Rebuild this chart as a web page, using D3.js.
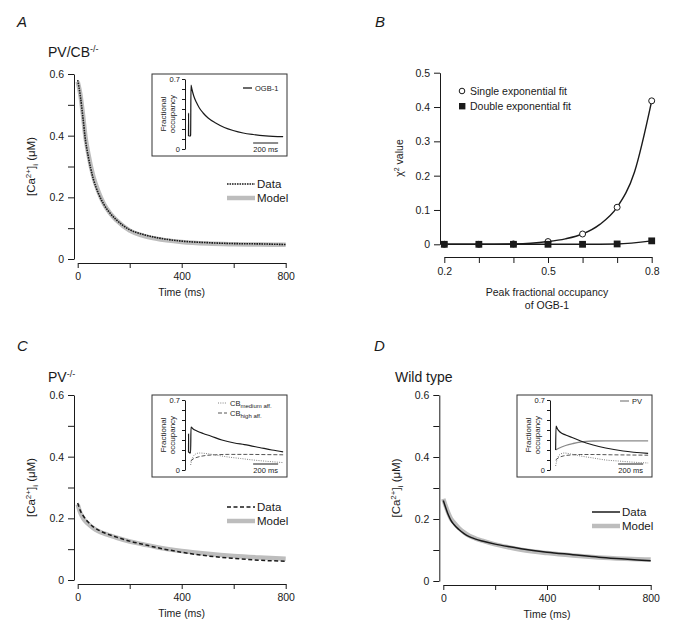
<!DOCTYPE html>
<html><head><meta charset="utf-8">
<script src="https://cdn.jsdelivr.net/npm/d3@7"></script>
<style>
body{margin:0;background:#fff}
svg{display:block}
text{font-family:"Liberation Sans",Arial,Helvetica,sans-serif;fill:#1a1a1a}
</style>
</head><body>
<svg id="chart" width="693" height="632"></svg>
<script>
// ---------------- DATA ----------------
const mainTime = [0,10,20,30,40,60,80,100,125,150,200,250,300,400,500,600,700,800];
const dataA  = [0.58,0.53,0.46,0.385,0.335,0.26,0.212,0.178,0.148,0.126,0.095,0.08,0.07,0.058,0.053,0.05,0.049,0.047];
const modelA = [0.575,0.535,0.47,0.395,0.345,0.268,0.218,0.18,0.148,0.125,0.092,0.076,0.066,0.055,0.05,0.048,0.047,0.046];
const dataC  = [0.25,0.225,0.21,0.198,0.188,0.172,0.162,0.154,0.146,0.139,0.126,0.116,0.106,0.09,0.078,0.07,0.064,0.061];
const modelC = [0.245,0.218,0.202,0.19,0.182,0.168,0.158,0.151,0.144,0.137,0.125,0.116,0.107,0.094,0.085,0.078,0.073,0.069];
const dataD  = [0.26,0.235,0.212,0.195,0.183,0.166,0.153,0.143,0.135,0.129,0.119,0.111,0.104,0.093,0.085,0.077,0.071,0.065];
const modelD = [0.265,0.24,0.218,0.2,0.19,0.171,0.157,0.146,0.137,0.13,0.118,0.109,0.101,0.09,0.082,0.076,0.072,0.069];

const mainYTicks = [0,0.1,0.2,0.3,0.4,0.5,0.6];
const mainYLabels = [0,0.2,0.4,0.6];
const mainXTicks = [0,200,400,600,800];
const mainXLabels = [0,400,800];

// insets (time in ms relative to stimulus, fractional occupancy)
const ogbA_t = [-17,-16.5,-16,-1,0,3,10,25,45,70,100,140,200,270,340,420,500,600,740];
const ogbA_v = [0.13,0.36,0.13,0.13,0.14,0.64,0.6,0.53,0.47,0.41,0.36,0.31,0.26,0.215,0.185,0.16,0.145,0.132,0.123];
const ogbC_t = [-17,-16.5,-16,-1,0,3,20,50,100,160,250,350,430,550,650,740];
const ogbC_v = [0.18,0.36,0.18,0.17,0.17,0.43,0.41,0.39,0.365,0.34,0.3,0.27,0.254,0.225,0.2,0.182];
const cbMedC_t = [0,15,40,70,120,200,300,400,500,600,740];
const cbMedC_v = [0.05,0.12,0.16,0.17,0.165,0.15,0.13,0.115,0.1,0.088,0.074];
const cbHighC_t = [0,20,60,120,200,300,450,600,740];
const cbHighC_v = [0.09,0.11,0.13,0.145,0.152,0.156,0.156,0.154,0.152];
const ogbD_t = [0,3,15,35,80,142,200,300,400,540,740];
const ogbD_v = [0.2,0.44,0.41,0.38,0.35,0.32,0.29,0.25,0.22,0.19,0.167];
const pvD_t = [0,30,80,140,200,300,400,740];
const pvD_v = [0.2,0.22,0.245,0.265,0.28,0.29,0.292,0.292];
const cbHighD_t = [0,20,60,120,200,300,450,600,740];
const cbHighD_v = [0.1,0.12,0.14,0.15,0.155,0.155,0.152,0.15,0.148];
const cbMedD_t = [0,15,40,70,120,200,300,400,500,600,740];
const cbMedD_v = [0.04,0.12,0.16,0.17,0.16,0.14,0.12,0.1,0.09,0.08,0.07];
const insetYTicks = [0,0.1,0.2,0.3,0.4,0.5,0.6,0.7];

// panel B
const occupancy = [0.2,0.3,0.4,0.5,0.6,0.7,0.8];
const singleChi = [0,0,0.001,0.008,0.03,0.108,0.418];
const doubleChi = [0,0,0,0,0,0.001,0.01];
const singleFitX = [0.2,0.3,0.4,0.45,0.5,0.55,0.6,0.65,0.7,0.75,0.8];
const singleFitY = [0,0,0.001,0.003,0.008,0.016,0.03,0.058,0.108,0.21,0.418];
const bXTicks = [0.2,0.3,0.4,0.5,0.6,0.7,0.8];
const bXLabels = [0.2,0.5,0.8];
const bYTicks = [0,0.1,0.2,0.3,0.4,0.5];

// ---------------- DRAW ----------------
const svg = d3.select('#chart');
const INK = '#1a1a1a', GREY = '#bdbdbd';
const fmt = d => d === 0 ? '0' : String(d);

function styleAxis(g, fs){
  g.selectAll('.domain').attr('stroke', INK).attr('stroke-width', 1);
  g.selectAll('.tick line').attr('stroke', INK).attr('stroke-width', 1);
  g.selectAll('.tick text').attr('font-size', fs).attr('fill', INK)
    .style('font-family','"Liberation Sans",Arial,sans-serif');
}

function caLabel(parent, x, y){
  const t = parent.append('text').attr('transform', `translate(${x},${y}) rotate(-90)`)
    .attr('text-anchor','middle').attr('font-size', 11.5);
  t.append('tspan').text('[Ca');
  t.append('tspan').attr('font-size', 8).attr('dy', -4.5).text('2+');
  t.append('tspan').attr('dy', 4.5).text(']');
  t.append('tspan').attr('font-size', 8).attr('dy', 2.5).text('i');
  t.append('tspan').attr('dy', -2.5).text(' (\u03bcM)');
}

function drawMain(cfg){
  const x = d3.scaleLinear().domain([0,800]).range(cfg.xr);
  const y = d3.scaleLinear().domain([0,0.6]).range(cfg.yr);
  const gy = svg.append('g').attr('transform', `translate(${cfg.yAxisX},0)`)
    .call(d3.axisLeft(y).tickValues(mainYTicks).tickSize(6).tickSizeOuter(0).tickPadding(4)
      .tickFormat(d => mainYLabels.includes(d) ? fmt(d) : ''));
  styleAxis(gy, 10.5);
  const gx = svg.append('g').attr('transform', `translate(0,${cfg.xAxisY})`)
    .call(d3.axisBottom(x).tickValues(mainXTicks).tickSize(5).tickSizeOuter(0).tickPadding(5)
      .tickFormat(d => mainXLabels.includes(d) ? fmt(d) : ''));
  styleAxis(gx, 10.5);
  svg.append('text').attr('x', (cfg.xr[0]+cfg.xr[1])/2).attr('y', cfg.xAxisY + 33)
    .attr('text-anchor','middle').attr('font-size', 10.5).text('Time (ms)');
  caLabel(svg, cfg.yAxisX - 39, (cfg.yr[0]+cfg.yr[1])/2);

  const line = d3.line().x((d,i) => x(mainTime[i])).y(d => y(d)).curve(d3.curveMonotoneX);
  svg.append('path').attr('d', line(cfg.model)).attr('fill','none')
    .attr('stroke', GREY).attr('stroke-width', 4.5);
  svg.append('path').attr('d', line(cfg.data)).attr('fill','none')
    .attr('stroke', INK).attr('stroke-width', cfg.dataW).attr('stroke-dasharray', cfg.dash);

  // legend
  const lx = cfg.legX, ly = cfg.legY;
  svg.append('line').attr('x1', lx).attr('x2', lx+28).attr('y1', ly).attr('y2', ly)
    .attr('stroke', INK).attr('stroke-width', cfg.dataW).attr('stroke-dasharray', cfg.dash);
  svg.append('text').attr('x', lx+30).attr('y', ly+4).attr('font-size', 11.5).text('Data');
  svg.append('line').attr('x1', lx).attr('x2', lx+28).attr('y1', ly+14).attr('y2', ly+14)
    .attr('stroke', GREY).attr('stroke-width', 4.5);
  svg.append('text').attr('x', lx+30).attr('y', ly+18).attr('font-size', 11.5).text('Model');

  // title
  const tt = svg.append('text').attr('x', cfg.titleX).attr('y', cfg.titleY).attr('font-size', 14);
  tt.append('tspan').text(cfg.title);
  if (cfg.sup) tt.append('tspan').attr('font-size', 9).attr('dy', -5.5).text(cfg.sup);
  svg.append('text').attr('x', cfg.letterX).attr('y', cfg.letterY).attr('font-size', 15)
    .attr('font-style','italic').text(cfg.letter);
}

function drawInset(cfg){
  const ax = cfg.axisX;
  const yi = d3.scaleLinear().domain([0,0.7]).range([cfg.y0, cfg.y0 - 70]);
  const xi = d3.scaleLinear().domain([-45,755]).range([ax, ax+100]);
  svg.append('rect').attr('x', ax-33).attr('y', yi(0.7)-5).attr('width', 135).attr('height', 82)
    .attr('fill','#fff').attr('stroke','#333').attr('stroke-width', 1);
  const g = svg.append('g').attr('transform', `translate(${ax},0)`)
    .call(d3.axisLeft(yi).tickValues(insetYTicks).tickSize(3).tickSizeOuter(0).tickPadding(2)
      .tickFormat(d => (d === 0 || d === 0.7) ? fmt(d) : ''));
  styleAxis(g, 7.5);
  const cy = (yi(0)+yi(0.7))/2;
  svg.append('text').attr('transform', `translate(${ax-19},${cy}) rotate(-90)`)
    .attr('text-anchor','middle').attr('font-size', 8).text('Fractional');
  svg.append('text').attr('transform', `translate(${ax-10},${cy}) rotate(-90)`)
    .attr('text-anchor','middle').attr('font-size', 8).text('occupancy');
  cfg.series.forEach(s => {
    const ln = d3.line().x((d,i) => xi(s.t[i])).y(d => yi(d)).curve(d3.curveMonotoneX);
    svg.append('path').attr('d', ln(s.v)).attr('fill','none').attr('stroke', s.color)
      .attr('stroke-width', s.w).attr('stroke-dasharray', s.dash || null);
  });
  // scale bar
  const sbY = yi(0) - 6;
  svg.append('line').attr('x1', xi(500)).attr('x2', xi(700)).attr('y1', sbY).attr('y2', sbY)
    .attr('stroke', INK).attr('stroke-width', 1);
  svg.append('text').attr('x', (xi(500)+xi(700))/2).attr('y', sbY+9).attr('text-anchor','middle')
    .attr('font-size', 7.5).text('200 ms');
  // legend
  cfg.legend.forEach((l,i) => {
    const yy = yi(0.7) + l.dy;
    svg.append('line').attr('x1', ax+l.dx).attr('x2', ax+l.dx+9).attr('y1', yy).attr('y2', yy)
      .attr('stroke', l.color).attr('stroke-width', l.w).attr('stroke-dasharray', l.dash || null);
    const t = svg.append('text').attr('x', ax+l.dx+12).attr('y', yy+2.5).attr('font-size', 7.5);
    t.append('tspan').text(l.label);
    if (l.sub) t.append('tspan').attr('font-size', 6).attr('dy', 2).text(l.sub);
  });
}

// Panel A
drawMain({xr:[77.7,285.7], yr:[259,74], yAxisX:74, xAxisY:263, data:dataA, model:modelA,
  dash:'1.6,0.9', dataW:1.6, legX:227, legY:184, title:'PV/CB', sup:'-/-', titleX:48, titleY:57,
  letter:'A', letterX:17, letterY:27});
drawInset({axisX:185, y0:149, series:[
  {t:ogbA_t, v:ogbA_v, color:INK, w:1.2}],
  legend:[{label:'OGB-1', dx:58, dy:9, color:INK, w:1.3}]});

// Panel C
drawMain({xr:[77.7,285.7], yr:[580,395], yAxisX:74, xAxisY:584, data:dataC, model:modelC,
  dash:'4,2.5', dataW:1.5, legX:227, legY:507, title:'PV', sup:'-/-', titleX:48, titleY:382,
  letter:'C', letterX:17, letterY:351});
drawInset({axisX:185, y0:470, series:[
  {t:cbMedC_t, v:cbMedC_v, color:'#808080', w:1, dash:'1,1.3'},
  {t:cbHighC_t, v:cbHighC_v, color:'#555', w:1, dash:'4,2'},
  {t:ogbC_t, v:ogbC_v, color:INK, w:1.2}],
  legend:[{label:'CB', sub:'medium aff.', dx:33, dy:3, color:'#808080', w:1, dash:'1,1.3'},
          {label:'CB', sub:'high aff.', dx:33, dy:13, color:'#555', w:1, dash:'4,2'}]});

// Panel D
drawMain({xr:[443.3,650.7], yr:[581,395], yAxisX:439.3, xAxisY:585, data:dataD, model:modelD,
  dash:null, dataW:1.5, legX:592, legY:512, title:'Wild type', sup:null, titleX:395, titleY:382,
  letter:'D', letterX:374, letterY:351});
drawInset({axisX:550, y0:470, series:[
  {t:cbMedD_t, v:cbMedD_v, color:'#808080', w:1, dash:'1,1.3'},
  {t:cbHighD_t, v:cbHighD_v, color:'#555', w:1, dash:'4,2'},
  {t:pvD_t, v:pvD_v, color:'#8a8a8a', w:1.3},
  {t:ogbD_t, v:ogbD_v, color:INK, w:1.2}],
  legend:[{label:'PV', dx:70, dy:1, color:'#8a8a8a', w:1.3}]});

// Panel B
(function(){
  const x = d3.scaleLinear().domain([0.2,0.8]).range([444.3,651.7]);
  const y = d3.scaleLinear().domain([0,0.5]).range([244.3,72.7]);
  const gy = svg.append('g').attr('transform','translate(440,0)')
    .call(d3.axisLeft(y).tickValues(bYTicks).tickSize(6).tickSizeOuter(0).tickPadding(4).tickFormat(fmt));
  styleAxis(gy, 10.5);
  const gx = svg.append('g').attr('transform','translate(0,257)')
    .call(d3.axisBottom(x).tickValues(bXTicks).tickSize(6).tickSizeOuter(0).tickPadding(5)
      .tickFormat(d => bXLabels.includes(d) ? String(d) : ''));
  styleAxis(gx, 10.5);
  svg.append('text').attr('x', 547).attr('y', 296).attr('text-anchor','middle').attr('font-size',10.5)
    .text('Peak fractional occupancy');
  svg.append('text').attr('x', 547).attr('y', 309).attr('text-anchor','middle').attr('font-size',10.5)
    .text('of OGB-1');
  const yl = svg.append('text').attr('transform','translate(403,158) rotate(-90)')
    .attr('text-anchor','middle').attr('font-size',10.5);
  yl.append('tspan').text('\u03c7');
  yl.append('tspan').attr('font-size',7).attr('dy',-4).text('2');
  yl.append('tspan').attr('dy',4).text(' value');

  const lnS = d3.line().x((d,i)=>x(singleFitX[i])).y(d=>y(d)).curve(d3.curveMonotoneX);
  svg.append('path').attr('d', lnS(singleFitY)).attr('fill','none').attr('stroke',INK).attr('stroke-width',1.4);
  const lnD = d3.line().x((d,i)=>x(occupancy[i])).y(d=>y(d)).curve(d3.curveMonotoneX);
  svg.append('path').attr('d', lnD(doubleChi)).attr('fill','none').attr('stroke',INK).attr('stroke-width',1.4);
  svg.selectAll('circle.s').data(singleChi).join('circle').attr('class','s')
    .attr('cx',(d,i)=>x(occupancy[i])).attr('cy',d=>y(d)).attr('r',3)
    .attr('fill','#fff').attr('stroke',INK).attr('stroke-width',1);
  svg.selectAll('rect.d').data(doubleChi).join('rect').attr('class','d')
    .attr('x',(d,i)=>x(occupancy[i])-3.4).attr('y',d=>y(d)-3.4).attr('width',6.8).attr('height',6.8)
    .attr('fill',INK);
  svg.append('circle').attr('cx',462).attr('cy',91).attr('r',2.8).attr('fill','#fff').attr('stroke',INK);
  svg.append('text').attr('x',470).attr('y',95).attr('font-size',10.5).text('Single exponential fit');
  svg.append('rect').attr('x',459).attr('y',103).attr('width',6.4).attr('height',6.4).attr('fill',INK);
  svg.append('text').attr('x',470).attr('y',110).attr('font-size',10.5).text('Double exponential fit');
  svg.append('text').attr('x',375).attr('y',27).attr('font-size',15).attr('font-style','italic').text('B');
})();
</script>
</body></html>
